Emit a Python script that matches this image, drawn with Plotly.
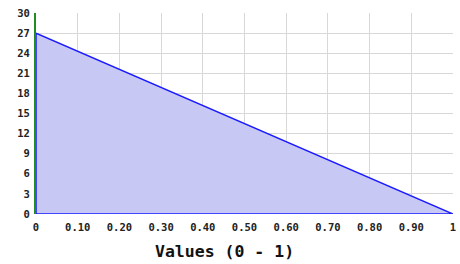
import plotly.graph_objects as go

x_vals = [0, 1]
y_vals = [27, 0]
x_ticks = [0, 0.1, 0.2, 0.3, 0.4, 0.5, 0.6, 0.7, 0.8, 0.9, 1]
x_tick_labels = ["0", "0.10", "0.20", "0.30", "0.40", "0.50", "0.60", "0.70", "0.80", "0.90", "1"]
y_ticks = [0, 3, 6, 9, 12, 15, 18, 21, 24, 27, 30]
x_title = "Values (0 - 1)"

fig = go.Figure()
# closed polygon under the line
fig.add_trace(go.Scatter(
    x=x_vals + [x_vals[-1], x_vals[0], x_vals[0]],
    y=y_vals + [0, 0, y_vals[0]],
    mode="lines", fill="toself",
    fillcolor="rgba(200,200,245,1)",
    line=dict(color="#1a1aff", width=1.5),
    cliponaxis=False,
    hoverinfo="skip", showlegend=False,
))

tick_font = dict(family="DejaVu Sans Mono", size=10.5, color="#222", weight="bold")

fig.update_layout(
    width=460, height=264,
    margin=dict(l=36, r=7, t=13, b=50, autoexpand=False),
    paper_bgcolor="white", plot_bgcolor="white",
    showlegend=False,
    xaxis=dict(
        range=[0, 1], tickvals=x_ticks, ticktext=x_tick_labels,
        showgrid=True, gridcolor="#d8d8d8", gridwidth=1,
        zeroline=False, showline=False, ticks="", automargin=False,
        ticklabeloverflow="allow", ticklabelstandoff=5,
        tickfont=tick_font,
    ),
    yaxis=dict(
        range=[0, 30], tickvals=y_ticks,
        showgrid=True, gridcolor="#d8d8d8", gridwidth=1,
        zeroline=False, showline=True, linecolor="#228b22", linewidth=2, ticks="",
        automargin=False, ticklabeloverflow="allow", ticklabelstandoff=2,
        tickfont=tick_font,
    ),
    annotations=[dict(
        text=x_title, xref="paper", yref="paper", x=0.451, y=-0.189,
        xanchor="center", yanchor="middle", showarrow=False,
        font=dict(family="DejaVu Sans Mono", size=16.5, color="#111", weight="bold"),
    )],
)
fig.write_html(
    "out.html",
    config={"displayModeBar": False},
    post_script="document.body.style.margin='0';document.body.style.overflow='hidden';",
)
